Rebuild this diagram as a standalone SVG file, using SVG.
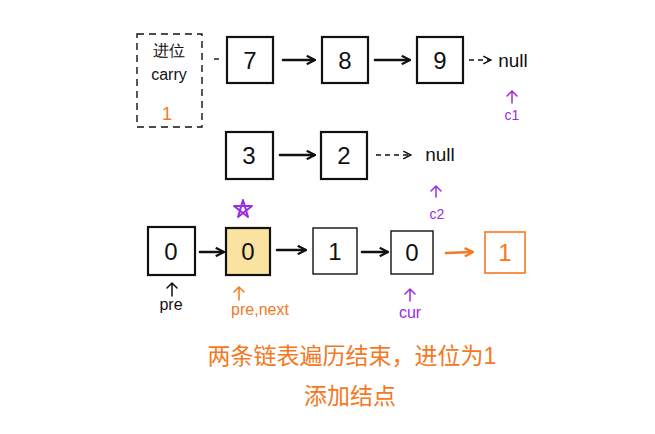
<svg xmlns="http://www.w3.org/2000/svg" width="655" height="434" viewBox="0 0 655 434">
<style>
.box{fill:#fff;stroke:#111;stroke-width:2.2}
.num{font-family:"Liberation Sans",sans-serif;font-size:24px;fill:#111;text-anchor:middle}
.lbl{font-family:"Liberation Sans",sans-serif;font-size:16px;fill:#111;text-anchor:middle}
.ar{stroke:#111;stroke-width:2.6;fill:none;stroke-linecap:round}
.da{stroke:#111;stroke-width:1.6;fill:none;stroke-dasharray:5 4}
.pu{fill:none;stroke:#9a2ce6;stroke-width:2;stroke-linejoin:round}
</style>
<defs>
<marker id="ah" viewBox="0 0 10 10" refX="8" refY="5" markerWidth="4" markerHeight="4" orient="auto"><path d="M1,1 L9,5 L1,9" fill="none" stroke="#111" stroke-width="2.2"/></marker>
<marker id="ahs" viewBox="0 0 10 10" refX="8" refY="5" markerWidth="6" markerHeight="6" orient="auto"><path d="M1,1 L9,5 L1,9" fill="none" stroke="#111" stroke-width="1.6"/></marker>
<marker id="aho" viewBox="0 0 10 10" refX="8" refY="5" markerWidth="4" markerHeight="4" orient="auto"><path d="M1,1 L9,5 L1,9" fill="none" stroke="#f5781e" stroke-width="2.2"/></marker>
</defs>

<g id="carry">
<rect x="137" y="34" width="65" height="93" fill="none" stroke="#111" stroke-width="1.4" stroke-dasharray="7 5"/>
<text x="169" y="56" class="lbl" font-family="'Liberation Sans','Noto Sans CJK SC',sans-serif">进位</text>
<text x="169" y="80" class="lbl">carry</text>
<text x="167" y="120" class="lbl" style="fill:#f5781e;font-size:18px">1</text>
</g>

<g id="n7"><rect class="box" x="227" y="37" width="46" height="46"/><text class="num" x="250" y="69">7</text></g>
<g id="n8"><rect class="box" x="322" y="37" width="46" height="46"/><text class="num" x="345" y="69">8</text></g>
<g id="n9"><rect class="box" x="417" y="37" width="46" height="46"/><text class="num" x="440" y="69">9</text></g>
<g id="null1"><text class="lbl" x="513" y="67" style="font-size:19px">null</text></g>
<g id="c1"><text class="lbl" x="512" y="120" style="fill:#9a2ce6;font-size:14px">c1</text></g>

<g id="n3"><rect class="box" x="226" y="132" width="47" height="47"/><text class="num" x="249" y="164">3</text></g>
<g id="n2"><rect class="box" x="321" y="132" width="46" height="47"/><text class="num" x="344" y="164">2</text></g>
<g id="null2"><text class="lbl" x="440" y="161" style="font-size:19px">null</text></g>
<g id="c2"><text class="lbl" x="437" y="219" style="fill:#9a2ce6;font-size:14px">c2</text></g>
<g id="star"><path class="pu" d="M243,200 L248,217 L234,206 L252,206 L238,217 Z"/></g>

<g id="m0"><rect class="box" x="148" y="227" width="47" height="48"/><text class="num" x="171" y="260">0</text></g>
<g id="m1"><rect x="226" y="228" width="44" height="47" fill="#fae3a0" stroke="#111" stroke-width="2.2"/><text class="num" x="248" y="260">0</text></g>
<g id="m2"><rect x="313" y="228" width="44" height="46" fill="#fff" stroke="#111" stroke-width="1.4"/><text class="num" x="335" y="260">1</text></g>
<g id="m3"><rect x="391" y="231" width="42" height="43" fill="#fff" stroke="#111" stroke-width="1.4"/><text class="num" x="412" y="261">0</text></g>
<g id="m4"><rect x="485" y="232" width="40" height="41" fill="#fff" stroke="#f5781e" stroke-width="1.6"/><text class="num" x="505" y="261" style="fill:#f5781e">1</text></g>

<g id="pre"><text class="lbl" x="171" y="310">pre</text></g>
<g id="prenext"><text class="lbl" x="260" y="315" style="fill:#f5781e">pre,next</text></g>
<g id="cur"><text class="lbl" x="410" y="318" style="fill:#9a2ce6">cur</text></g>

<g id="caption" font-family="'Liberation Sans','Noto Sans CJK SC',sans-serif" font-size="23" fill="#f5781e" text-anchor="middle">
<text x="352" y="364">两条链表遍历结束，进位为1</text>
<text x="350" y="404">添加结点</text>
</g>

<g id="connectors">
<line x1="214" y1="59" x2="219" y2="59" stroke="#111" stroke-width="1.4"/>
<line class="ar" x1="283" y1="60" x2="314" y2="60" marker-end="url(#ah)"/>
<line class="ar" x1="375" y1="60" x2="409" y2="60" marker-end="url(#ah)"/>
<line class="da" x1="469" y1="60" x2="490" y2="60" marker-end="url(#ahs)"/>
<line class="ar" x1="280" y1="155" x2="314" y2="155" marker-end="url(#ah)"/>
<line class="da" x1="376" y1="155" x2="410" y2="155" marker-end="url(#ahs)"/>
<line class="ar" x1="200" y1="252" x2="223" y2="252" marker-end="url(#ah)"/>
<line class="ar" x1="277" y1="250" x2="305" y2="250" marker-end="url(#ah)"/>
<line class="ar" x1="362" y1="252" x2="387" y2="252" marker-end="url(#ah)"/>
<line x1="446" y1="253" x2="472" y2="252" stroke="#f5781e" stroke-width="2.6" stroke-linecap="round" marker-end="url(#aho)"/>
<g stroke-width="1.5" fill="none" stroke-linecap="round">
<path d="M512,103 V91 M507,96 L512,91 L517,96" stroke="#9a2ce6"/>
<path d="M436,197 V186 M431,191 L436,186 L441,191" stroke="#9a2ce6"/>
<path d="M172,296 V283 M167,288 L172,283 L177,288" stroke="#111"/>
<path d="M239,300 V287 M234,292 L239,287 L244,292" stroke="#f5781e"/>
<path d="M410,301 V289 M405,294 L410,289 L415,294" stroke="#9a2ce6"/>
</g>
</g>
</svg>
